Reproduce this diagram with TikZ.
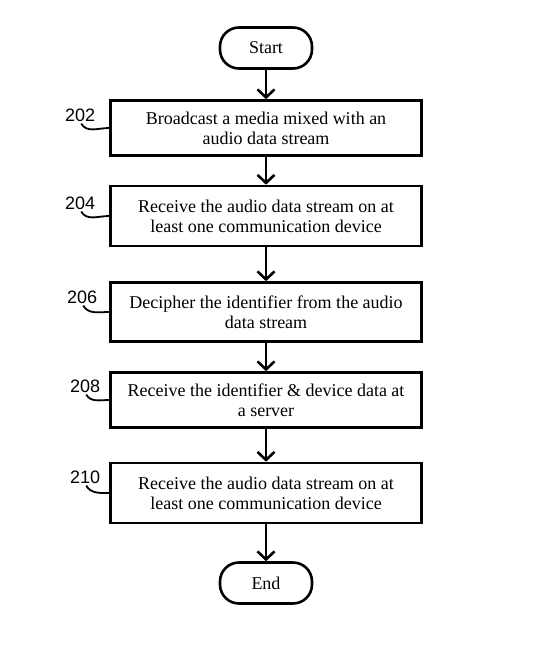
\documentclass[tikz,border=0pt]{standalone}
\usepackage{fontspec}
\setmainfont{Liberation Serif}
\newfontfamily\lblfont{Liberation Sans}
\usetikzlibrary{positioning,arrows.meta}
\tikzstyle{block} = [ rectangle, draw, line width=2.6pt, minimum width=311pt, minimum height=57pt, align=center, font=\fontsize{18}{20}\selectfont]
\tikzstyle{terminal} = [ rectangle, draw, line width=2.6pt, rounded corners=19pt, minimum width=92pt, minimum height=41pt, font=\fontsize{18}{20}\selectfont]
\tikzstyle{line} = [ draw, line width=2.6pt, -{Straight Barb[length=8pt,width=17pt]}]
\tikzstyle{lbl} = [ font=\lblfont\fontsize{18}{20}\selectfont, inner sep=2pt]
\tikzstyle{tick} = [ draw, line width=1.8pt]

\begin{document}
\begin{tikzpicture}[node distance=90pt, x=1pt, y=1pt]
  \useasboundingbox (-266,48) rectangle (285,-616);
  \node [terminal]  (start)  {Start};
  \node [block, below of=start, yshift=10pt, minimum height=55pt]  (b202) {Broadcast a media mixed with an\\audio data stream};
  \node [block, below of=b202, yshift=2pt, minimum height=60pt]  (b204) {Receive the audio data stream on at\\least one communication device};
  \node [block, below of=b204, yshift=-6pt, minimum height=59pt]  (b206) {Decipher the identifier from the audio\\data stream};
  \node [block, below of=b206, yshift=2pt, minimum height=55pt]  (b208) {Receive the identifier \& device data at\\a server};
  \node [block, below of=b208, yshift=-3pt, minimum height=60pt]  (b210) {Receive the audio data stream on at\\least one communication device};
  \node [terminal, below of=b210]  (end)  {End};

  % step numbers
  \node [lbl] (l202) at ([xshift=-29pt,yshift=13pt]b202.west) {202};
  \node [lbl] (l204) at ([xshift=-29pt,yshift=13pt]b204.west) {204};
  \node [lbl] (l206) at ([xshift=-27pt,yshift=15pt]b206.west) {206};
  \node [lbl] (l208) at ([xshift=-24pt,yshift=14pt]b208.west) {208};
  \node [lbl] (l210) at ([xshift=-24pt,yshift=16pt]b210.west) {210};
  \foreach \n in {202,204,206,208,210}
    \path [tick] ([xshift=1pt]l\n.south) to[out=-60, in=180] (b\n.west);

  \path [line] (start) -- (b202);
  \path [line] (b202) -- (b204);
  \path [line] (b204) -- (b206);
  \path [line] (b206) -- (b208);
  \path [line] (b208) -- (b210);
  \path [line] (b210) -- (end);
\end{tikzpicture}
\end{document}
